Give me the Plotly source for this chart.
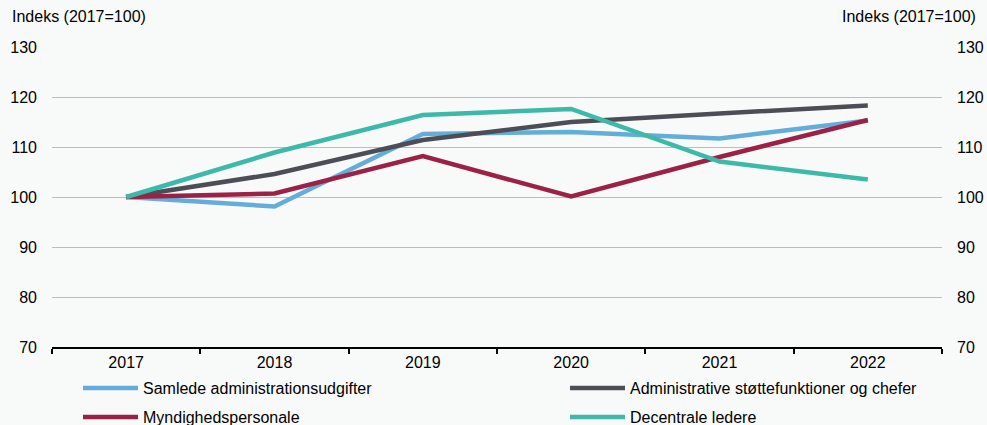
import plotly.graph_objects as go

years = ["2017", "2018", "2019", "2020", "2021", "2022"]
samlede = [100, 98.1, 112.6, 113.0, 111.7, 115.3]
administrative = [100, 104.6, 111.4, 115.0, 116.7, 118.3]
myndighed = [100, 100.7, 108.2, 100.1, 108.0, 115.4]
decentrale = [100, 108.9, 116.4, 117.6, 107.1, 103.5]
y_ticks = [70, 80, 90, 100, 110, 120, 130]

names = ["Samlede administrationsudgifter", "Administrative støttefunktioner og chefer",
         "Myndighedspersonale", "Decentrale ledere"]
series = [samlede, administrative, myndighed, decentrale]
colors = ["#64ADD9", "#4D4D55", "#9B2146", "#3DB9AA"]
legends = ["legend", "legend2", "legend3", "legend4"]

FONT = "Liberation Sans, Arial, sans-serif"
fig = go.Figure()
for nm, vals, c, lg in zip(names, series, colors, legends):
    fig.add_trace(go.Scatter(x=years, y=vals, name=nm, mode="lines",
                             line=dict(color=c, width=4.5), legend=lg))
# invisible companion trace so the right-hand axis is drawn
fig.add_trace(go.Scatter(x=years, y=samlede, yaxis="y2", mode="lines", showlegend=False,
                         hoverinfo="skip", line=dict(color="rgba(0,0,0,0)", width=0)))

W, H = 987, 425
L, R, T, B = 52, 45, 47, 78
pw, ph = W - L - R, H - T - B

def px(x):
    return (x - L) / pw

def py(y):
    return (H - B - y) / ph

def cx(x):
    return x / W

def cy(y):
    return 1 - y / H

leg_common = dict(orientation="h", bgcolor="rgba(0,0,0,0)", font=dict(family=FONT, size=16, color="#000"),
                  xanchor="left", yanchor="middle", itemwidth=55, xref="container", yref="container")

fig.update_layout(
    width=W, height=H,
    margin=dict(l=L, r=R, t=T, b=B, autoexpand=False),
    paper_bgcolor="#F8FAFA", plot_bgcolor="#F8FAFA",
    font=dict(family=FONT, size=16, color="#000"),
    xaxis=dict(type="category", range=[-0.5, 5.5], showgrid=False, showline=True,
               linecolor="#000", linewidth=2, ticks="outside", tickson="boundaries",
               ticklen=5, tickwidth=2, tickcolor="#000", zeroline=False, automargin=False,
               tickfont=dict(family=FONT, size=16)),
    yaxis=dict(range=[70, 130], tickvals=y_ticks, showgrid=True, gridcolor="#BDBDBD",
               gridwidth=1, zeroline=False, showline=False, ticks="", automargin=False,
               ticklabelstandoff=14, tickfont=dict(family=FONT, size=16)),
    yaxis2=dict(range=[70, 130], tickvals=y_ticks, overlaying="y", side="right",
                showgrid=False, zeroline=False, showline=False, ticks="", automargin=False,
                ticklabelstandoff=14, tickfont=dict(family=FONT, size=16)),
    legend=dict(x=cx(78), y=cy(388), **leg_common),
    legend2=dict(x=cx(565), y=cy(388), **leg_common),
    legend3=dict(x=cx(78), y=cy(417), **leg_common),
    legend4=dict(x=cx(565), y=cy(417), **leg_common),
    showlegend=True,
    annotations=[
        dict(text="Indeks (2017=100)", xref="paper", yref="paper", x=px(10), y=py(16),
             xanchor="left", yanchor="middle", showarrow=False, font=dict(family=FONT, size=16)),
        dict(text="Indeks (2017=100)", xref="paper", yref="paper", x=px(978), y=py(16),
             xanchor="right", yanchor="middle", showarrow=False, font=dict(family=FONT, size=16)),
    ],
)
fig.write_html("out.html", config={"displayModeBar": False},
               post_script="document.body.style.margin='0';")
